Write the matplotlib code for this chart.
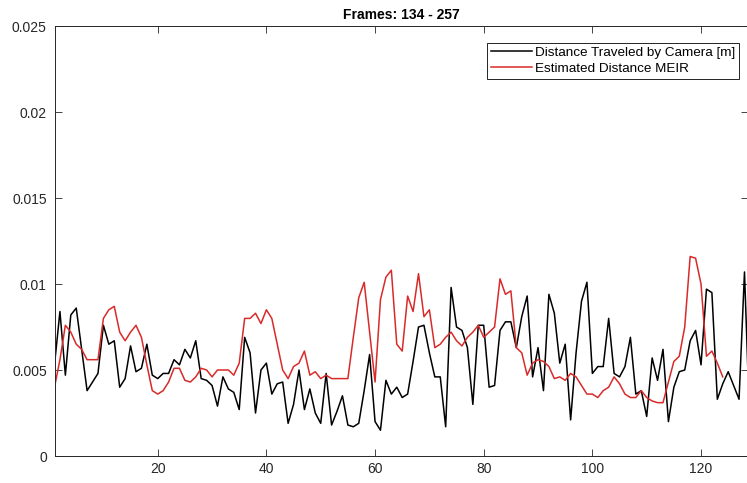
import numpy as np
import matplotlib
matplotlib.use('Agg')
import matplotlib.pyplot as plt

plt.rcParams['font.family'] = ['Liberation Sans', 'DejaVu Sans']

# Distance traveled by camera, per frame (in mm)
cam_mm = [5.3, 8.4, 4.7, 8.2, 8.6, 6.2, 3.8, 4.3, 4.8, 7.6,
          6.5, 6.7, 4.0, 4.5, 6.4, 4.9, 5.1, 6.5, 4.7, 4.5,
          4.8, 4.8, 5.6, 5.3, 6.2, 5.7, 6.7, 4.5, 4.4, 4.1,
          2.9, 4.6, 3.9, 3.7, 2.7, 6.9, 6.0, 2.5, 5.0, 5.4,
          3.6, 4.2, 4.3, 1.9, 3.0, 5.0, 2.7, 3.9, 2.5, 1.9,
          4.8, 1.8, 2.6, 3.5, 1.8, 1.7, 1.9, 3.8, 5.9, 2.0,
          1.5, 4.4, 3.6, 4.0, 3.4, 3.6, 5.5, 7.5, 7.6, 6.0,
          4.6, 4.6, 1.7, 9.8, 7.5, 7.3, 6.3, 3.0, 7.6, 7.6,
          4.0, 4.1, 7.3, 7.8, 7.8, 6.3, 8.1, 9.3, 4.6, 6.3,
          3.8, 9.4, 8.3, 5.4, 6.5, 2.1, 6.0, 9.0, 10.1, 4.8,
          5.2, 5.2, 8.0, 4.8, 4.6, 5.2, 6.9, 3.6, 3.8, 2.3,
          5.7, 4.4, 6.2, 2.0, 4.0, 4.9, 5.0, 6.7, 7.3, 5.3,
          9.7, 9.5, 3.3, 4.2, 4.9, 4.1, 3.3, 10.7, 1.5]

# Estimated distance MEIR (mm)
meir_mm = [4.0, 5.6, 7.6, 7.2, 6.5, 6.2, 5.6, 5.6, 5.6, 8.0,
           8.5, 8.7, 7.2, 6.7, 7.2, 7.6, 6.9, 5.3, 3.8, 3.6,
           3.8, 4.3, 5.1, 5.1, 4.4, 4.3, 4.6, 5.1, 5.0, 4.6,
           5.0, 5.0, 5.0, 4.7, 5.4, 8.0, 8.0, 8.3, 7.7, 8.5,
           8.0, 6.5, 5.0, 4.5, 5.2, 5.4, 6.1, 4.7, 4.9, 4.5,
           4.7, 4.5, 4.5, 4.5, 4.5, 6.9, 9.2, 10.1, 7.2, 4.3,
           9.1, 10.4, 10.8, 6.5, 6.1, 9.3, 8.4, 10.6, 8.1, 8.5,
           6.3, 6.5, 6.9, 7.2, 6.7, 6.4, 6.9, 7.2, 7.6, 6.9,
           7.2, 7.5, 10.3, 9.4, 9.6, 6.3, 6.0, 4.7, 5.4, 5.6,
           5.5, 5.2, 4.5, 4.6, 4.4, 4.8, 4.6, 4.1, 3.6, 3.6,
           3.4, 3.8, 4.0, 4.6, 4.2, 3.6, 3.4, 3.4, 3.8, 3.4,
           3.2, 3.1, 3.1, 4.3, 5.5, 5.8, 7.5, 11.6, 11.5, 10.0,
           5.8, 6.1, 5.4, 4.6]

title = 'Frames: 134 - 257'
labels = ['Distance Traveled by Camera [m]', 'Estimated Distance MEIR']
yticks = [0, 0.005, 0.01, 0.015, 0.02, 0.025]
ytick_labels = ['0', '0.005', '0.01', '0.015', '0.02', '0.025']
xticks = [20, 40, 60, 80, 100, 120]

cam = np.array(cam_mm) * 1e-3
meir = np.array(meir_mm) * 1e-3
x_cam = np.arange(1, len(cam) + 1)
x_meir = np.arange(1, len(meir) + 1)

W, H = 747, 483
fig = plt.figure(figsize=(W / 100, H / 100), dpi=100)
# axes run off the right edge like in the cropped reference
ax = fig.add_axes([54.5 / W, 1 - 456 / H, (748 - 54.5) / W, (456 - 26) / H])

ax.plot(x_cam, cam, color='black', lw=1.1, label=labels[0])
ax.plot(x_meir, meir, color='#d92a2a', lw=1.1, label=labels[1])

ax.set_xlim(1, 1 + (748 - 54.5) / 5.433)
ax.set_ylim(0, 0.025)
ax.set_xticks(xticks)
ax.set_yticks(yticks)
ax.set_yticklabels(ytick_labels)

dark = '#262626'
ax.tick_params(direction='in', length=5, width=0.6, colors=dark,
               labelsize=10, top=True, right=True)
ax.tick_params(axis='y', pad=5.5)
ax.tick_params(axis='x', pad=4.5)
for s in ax.spines.values():
    s.set_color(dark)
    s.set_linewidth(0.7)

ax.set_title(title, fontsize=10, fontweight='bold', pad=5, color='black')

leg = ax.legend(loc='upper right', bbox_to_anchor=(739.3 / W, 1 - 42.7 / H),
                bbox_transform=fig.transFigure, borderaxespad=0,
                fontsize=9.7, fancybox=False, framealpha=1, edgecolor='black',
                handlelength=3.0, handletextpad=0.25, labelspacing=0.25,
                borderpad=0.3)
leg.get_frame().set_linewidth(0.6)

fig.savefig('out.png', dpi=100)
